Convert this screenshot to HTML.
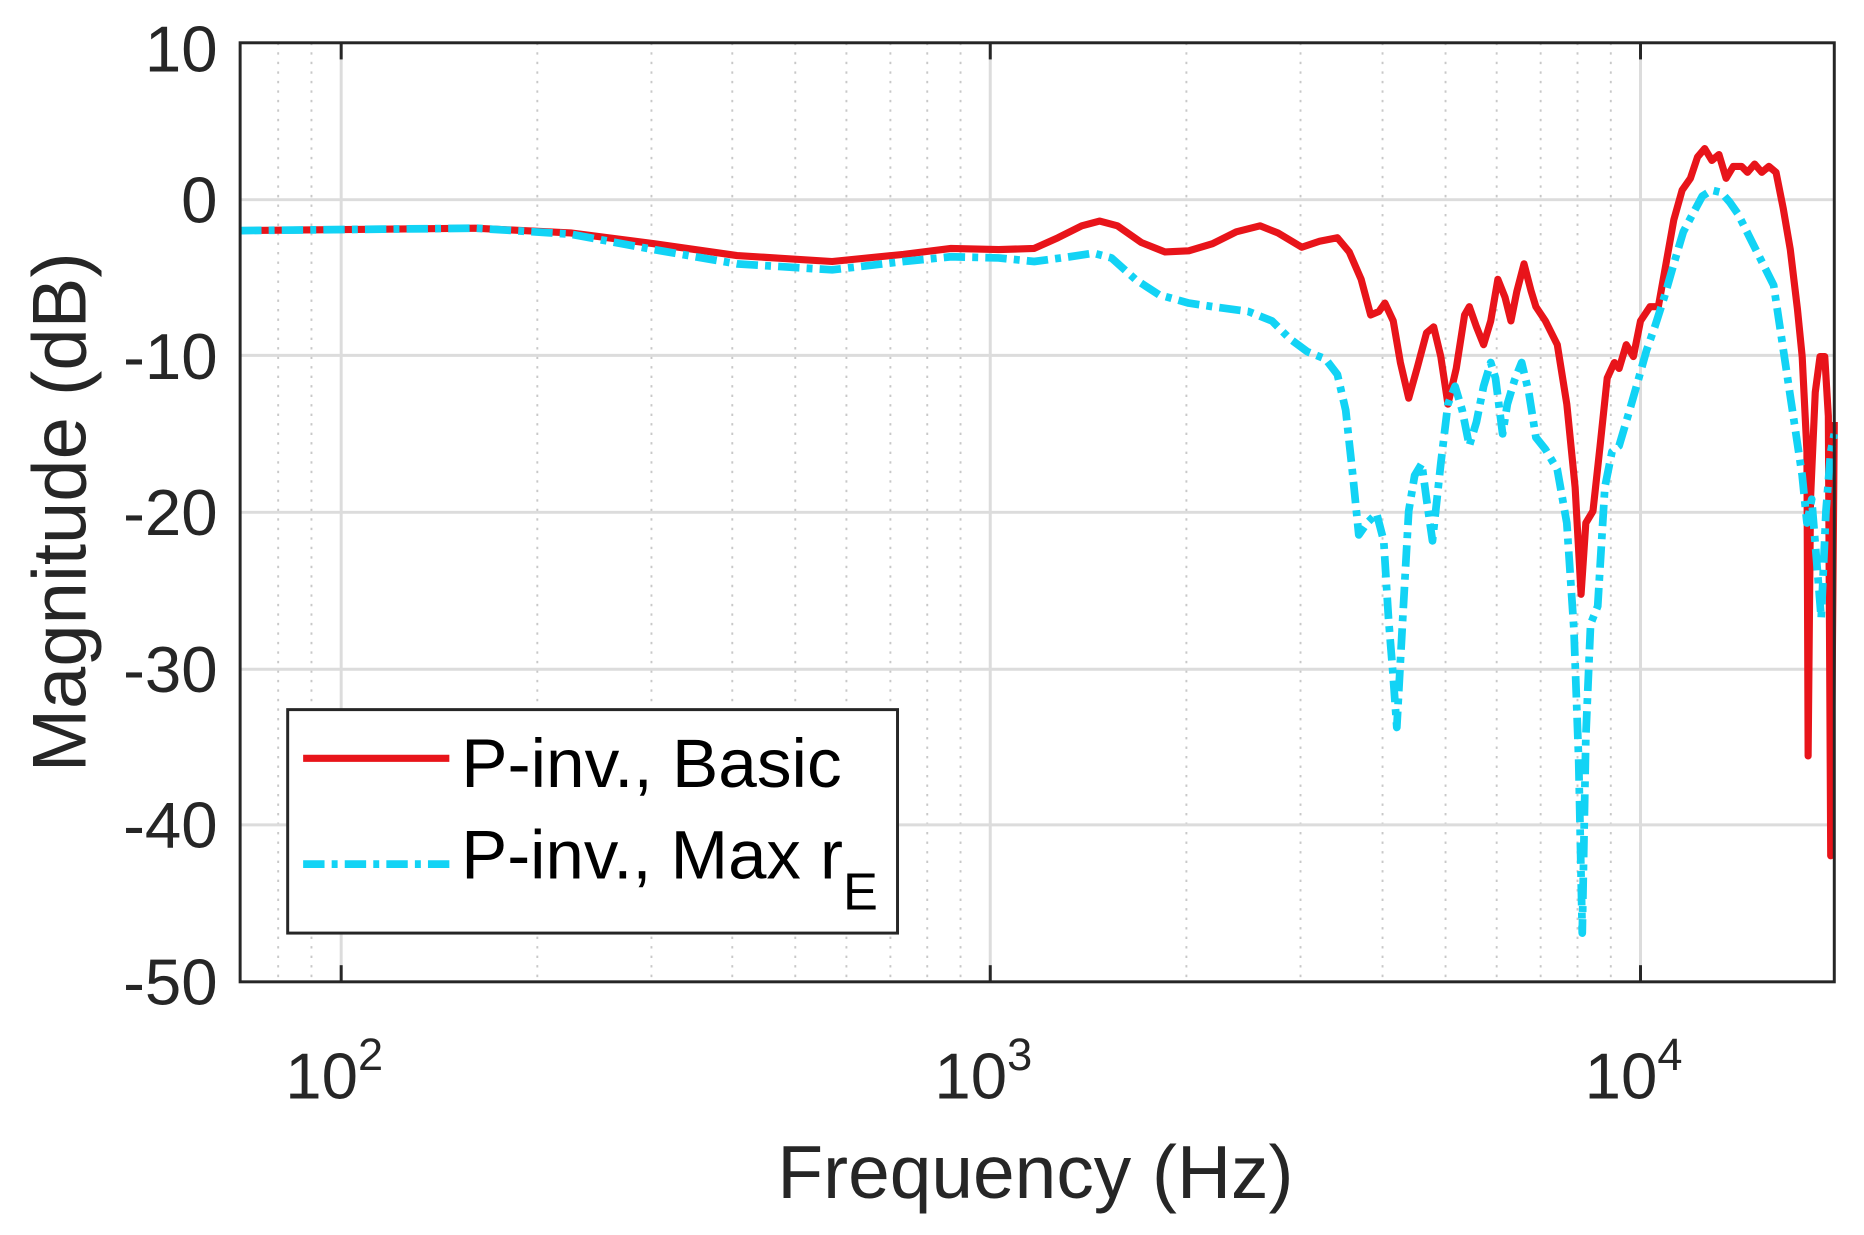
<!DOCTYPE html>
<html><head><meta charset="utf-8"><style>html,body{margin:0;padding:0;background:#fff}svg{display:block}</style></head>
<body>
<svg width="1864" height="1235" viewBox="0 0 1568 1039" preserveAspectRatio="none" xmlns="http://www.w3.org/2000/svg" font-family="Liberation Sans, sans-serif">
<rect width="1568" height="1039" fill="#fff"/>
<g stroke="#c8c8c8" stroke-width="1.6" stroke-dasharray="2,6">
<line x1="234" y1="36" x2="234" y2="826"/><line x1="262" y1="36" x2="262" y2="826"/>
<line x1="452" y1="36" x2="452" y2="826"/><line x1="548" y1="36" x2="548" y2="826"/><line x1="616" y1="36" x2="616" y2="826"/><line x1="669" y1="36" x2="669" y2="826"/><line x1="712" y1="36" x2="712" y2="826"/><line x1="749" y1="36" x2="749" y2="826"/><line x1="780" y1="36" x2="780" y2="826"/><line x1="808" y1="36" x2="808" y2="826"/>
<line x1="998" y1="36" x2="998" y2="826"/><line x1="1094" y1="36" x2="1094" y2="826"/><line x1="1163" y1="36" x2="1163" y2="826"/><line x1="1216" y1="36" x2="1216" y2="826"/><line x1="1259" y1="36" x2="1259" y2="826"/><line x1="1296" y1="36" x2="1296" y2="826"/><line x1="1327" y1="36" x2="1327" y2="826"/><line x1="1355" y1="36" x2="1355" y2="826"/>
</g>
<g stroke="#dcdcdc" stroke-width="2.5">
<line x1="287" y1="36" x2="287" y2="826"/><line x1="833" y1="36" x2="833" y2="826"/><line x1="1380" y1="36" x2="1380" y2="826"/>
<line x1="202" y1="168" x2="1543" y2="168"/><line x1="202" y1="299" x2="1543" y2="299"/><line x1="202" y1="431" x2="1543" y2="431"/><line x1="202" y1="563" x2="1543" y2="563"/><line x1="202" y1="694" x2="1543" y2="694"/>
</g>
<g fill="none" stroke-linejoin="round">
<polyline stroke="#e8141a" stroke-width="6" points="202,194 400,192 480,196 550,205 620,215 700,220 760,214 800,209 840,210 870,209 890,200 910,190 925,186 940,190 960,204 980,212 1000,211 1020,205 1040,195 1060,190 1075,196 1095,208 1110,203 1125,200 1135,212 1145,235 1153,265 1160,262 1165,255 1172,270 1178,305 1185,335 1192,310 1200,280 1206,275 1212,300 1218,340 1225,310 1232,265 1236,258 1242,275 1248,290 1254,270 1260,235 1266,250 1271,270 1276,245 1282,222 1288,245 1292,258 1300,270 1310,290 1318,340 1325,410 1330,500 1334,440 1340,430 1346,375 1352,318 1358,305 1362,310 1368,290 1374,300 1380,270 1388,258 1395,258 1400,230 1408,185 1415,160 1422,150 1428,132 1434,125 1440,135 1446,130 1452,150 1458,140 1465,140 1470,145 1476,138 1482,145 1488,140 1494,145 1500,175 1506,210 1512,260 1516,300 1520,380 1521,636 1523,420 1527,330 1531,300 1535,300 1538,350 1540,720 1543,355"/>
<polyline stroke="#12d3f5" stroke-width="6.5" stroke-dasharray="18,6,5,6" points="202,194 400,192 480,197 550,210 620,222 700,227 760,220 800,216 840,217 870,220 900,216 920,213 935,217 955,235 975,248 1000,255 1020,258 1050,262 1070,270 1085,285 1100,296 1115,302 1125,315 1132,345 1138,400 1143,450 1150,440 1158,432 1164,455 1168,520 1172,570 1175,612 1180,520 1185,430 1190,400 1196,390 1200,420 1205,455 1212,390 1218,340 1224,325 1230,345 1236,375 1242,355 1248,325 1254,305 1258,318 1264,365 1268,340 1274,320 1280,305 1286,330 1292,368 1300,378 1310,395 1318,440 1324,530 1328,640 1331,785 1334,620 1338,525 1344,510 1350,410 1356,380 1362,375 1370,348 1378,320 1385,295 1392,275 1400,250 1408,222 1416,195 1425,178 1432,165 1440,160 1448,162 1455,170 1462,180 1472,200 1482,220 1492,240 1498,280 1504,320 1510,360 1516,400 1520,440 1524,420 1528,470 1532,520 1536,430 1540,380 1543,365"/>
</g>
<rect x="202" y="36" width="1341" height="790" fill="none" stroke="#262626" stroke-width="2.5"/>
<g stroke="#262626" stroke-width="2.5">
<line x1="287" y1="826" x2="287" y2="812"/><line x1="833" y1="826" x2="833" y2="812"/><line x1="1380" y1="826" x2="1380" y2="812"/>
<line x1="287" y1="36" x2="287" y2="50"/><line x1="833" y1="36" x2="833" y2="50"/><line x1="1380" y1="36" x2="1380" y2="50"/>
</g>
<g font-size="55" fill="#262626" text-anchor="end">
<text x="183" y="60">10</text><text x="183" y="187">0</text><text x="183" y="319">-10</text><text x="183" y="450">-20</text><text x="183" y="582">-30</text><text x="183" y="713">-40</text><text x="183" y="845">-50</text>
</g>
<g font-size="55" fill="#262626">
<text x="240" y="924">10<tspan font-size="38" dy="-24">2</tspan></text>
<text x="786" y="924">10<tspan font-size="38" dy="-24">3</tspan></text>
<text x="1333" y="924">10<tspan font-size="38" dy="-24">4</tspan></text>
</g>
<text x="871" y="1008" font-size="63" fill="#262626" text-anchor="middle">Frequency (Hz)</text>
<text transform="translate(72,431) rotate(-90)" font-size="64" fill="#262626" text-anchor="middle">Magnitude (dB)</text>
<rect x="242" y="597" width="513" height="188" fill="#fff" stroke="#262626" stroke-width="2.5"/>
<line x1="255" y1="638" x2="378" y2="638" stroke="#e8141a" stroke-width="6"/>
<line x1="255" y1="727" x2="378" y2="727" stroke="#12d3f5" stroke-width="6.5" stroke-dasharray="18,6,5,6"/>
<text x="388" y="662" font-size="58" fill="#000" textLength="320" lengthAdjust="spacingAndGlyphs">P-inv., Basic</text>
<text x="388" y="739" font-size="58" fill="#000">P-inv., Max r<tspan font-size="44" dy="26">E</tspan></text>
</svg>
</body></html>
